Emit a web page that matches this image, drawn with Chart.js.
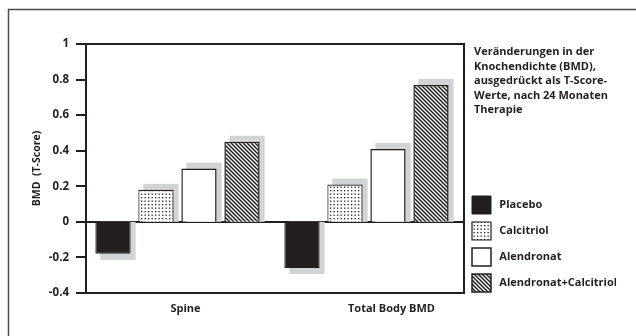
<!DOCTYPE html>
<html>
<head>
<meta charset="utf-8">
<script src="https://cdn.jsdelivr.net/npm/chart.js@4/dist/chart.umd.min.js"></script>
<style>
  html, body { margin: 0; padding: 0; background: #fff; }
  #wrap { width: 636px; height: 336px; position: relative; }
</style>
</head>
<body>
<div id="wrap"><canvas id="c" width="636" height="336"></canvas></div>
<script>
// Groups on the x axis
const categories = ['Spine', 'Total Body BMD'];
// Treatment arms
const seriesNames = ['Placebo', 'Calcitriol', 'Alendronat', 'Alendronat+Calcitriol'];
// Change in T-score after 24 months, per group
const placebo = [-0.18, -0.26];
const calcitriol = [0.18, 0.21];
const alendronat = [0.30, 0.41];
const alendronatCalcitriol = [0.45, 0.77];
// Value axis
const yMin = -0.4;
const yMax = 1;
const yStep = 0.2;
const yTitle = 'BMD  (T-Score)';
// Side note
const noteLines = [
  'Veränderungen in der',
  'Knochendichte (BMD),',
  'ausgedrückt als T-Score-',
  'Werte, nach 24 Monaten',
  'Therapie'
];

const INK = '#231f20';
const FONT = '"Open Sans"';

function dotPattern() {
  const c = document.createElement('canvas');
  c.width = 7; c.height = 7;
  const g = c.getContext('2d');
  g.fillStyle = '#fff';
  g.fillRect(0, 0, 7, 7);
  g.fillStyle = INK;
  [1, 4.5].forEach(px => [1, 4.5].forEach(py => g.fillRect(px, py, 1.3, 1.3)));
  return g.createPattern(c, 'repeat');
}

function hatchPattern() {
  const s = 4;
  const c = document.createElement('canvas');
  c.width = s; c.height = s;
  const g = c.getContext('2d');
  g.fillStyle = '#fff';
  g.fillRect(0, 0, s, s);
  g.strokeStyle = INK;
  g.lineWidth = 1.5;
  g.beginPath();
  g.moveTo(-1, -1); g.lineTo(s + 1, s + 1);
  g.moveTo(-1, s - 1); g.lineTo(1, s + 1);
  g.moveTo(s - 1, -1); g.lineTo(s + 1, 1);
  g.stroke();
  return g.createPattern(c, 'repeat');
}

const seriesValues = [placebo, calcitriol, alendronat, alendronatCalcitriol];
const fills = [INK, dotPattern(), '#ffffff', hatchPattern()];
const borderWidths = [1, 1.2, 1.5, 1.5];

const datasets = seriesNames.map((name, k) => ({
  label: name,
  data: seriesValues[k].map((v, i) => ({ x: i, y: v })),
  backgroundColor: fills[k],
  borderColor: INK,
  borderWidth: borderWidths[k],
  borderSkipped: 'start',
  categoryPercentage: 0.91,
  barPercentage: 0.82
}));

const TEXT_SIZE = 11;
const LEGEND_BOX = 19;
const LEGEND_PAD = 8;
const PLOT_RIGHT = 464;

// Outer frame, plot frame, bar shadows, group labels and side note
const decorations = {
  id: 'decorations',
  beforeDraw(chart) {
    const ctx = chart.ctx;
    ctx.save();
    ctx.strokeStyle = '#4a4a4a';
    ctx.lineWidth = 1.5;
    ctx.strokeRect(8.5, 9.5, 700, 400);
    ctx.restore();
  },
  beforeDatasetsDraw(chart, args, opts) {
    const ctx = chart.ctx;
    ctx.save();
    ctx.fillStyle = opts.shadowColor;
    chart.data.datasets.forEach((ds, k) => {
      chart.getDatasetMeta(k).data.forEach(bar => {
        const { x, y, base, width } = bar.getProps(['x', 'y', 'base', 'width'], true);
        const left = x - width / 2 + opts.shadowDx;
        let top, bottom;
        if (y < base) { top = y - opts.shadowDy; bottom = base; }
        else { top = base; bottom = y + opts.shadowDy; }
        ctx.fillRect(left, top, width, bottom - top);
      });
    });
    ctx.restore();
  },
  afterDraw(chart, args, opts) {
    const ctx = chart.ctx;
    const a = chart.chartArea;
    ctx.save();
    ctx.strokeStyle = INK;
    ctx.lineWidth = 2;
    ctx.beginPath();
    ctx.moveTo(a.left, a.top);
    ctx.lineTo(a.right, a.top);
    ctx.lineTo(a.right, a.bottom);
    ctx.stroke();

    ctx.fillStyle = INK;
    ctx.font = 'bold ' + TEXT_SIZE + 'px ' + FONT;
    ctx.textAlign = 'center';
    ctx.textBaseline = 'middle';
    const xs = chart.scales.x;
    categories.forEach((c, i) => {
      ctx.fillText(c, xs.getPixelForValue(i) + opts.labelShift[i], opts.labelY);
    });

    ctx.textAlign = 'left';
    noteLines.forEach((line, i) => {
      ctx.fillText(line, opts.noteX, opts.noteY + i * opts.noteStep);
    });
    ctx.restore();
  }
};

Chart.defaults.font.family = FONT;
Chart.defaults.color = INK;

const chart = new Chart(document.getElementById('c'), {
  type: 'bar',
  data: { datasets },
  plugins: [decorations],
  options: {
    responsive: false,
    animation: false,
    events: [],
    layout: { padding: { top: 44, left: 8, right: 20, bottom: 36 } },
    scales: {
      x: {
        type: 'linear',
        offset: false,
        bounds: 'data',
        min: -0.484,
        max: 1.516,
        afterBuildTicks: s => { s.ticks = categories.map((c, i) => ({ value: i })); },
        afterFit: s => { s.height = 7; },
        grid: { display: false },
        ticks: { display: false },
        border: { display: true, color: INK, width: 2 }
      },
      y: {
        z: 1,
        min: yMin,
        max: yMax,
        afterFit: s => { s.width = 78; },
        ticks: {
          stepSize: yStep,
          padding: 7,
          font: { size: 11.5, weight: 'bold' },
          color: INK,
          callback: v => String(Number(v.toFixed(1)))
        },
        grid: {
          drawOnChartArea: true,
          color: c => (c.tick && Math.abs(c.tick.value) < 1e-9) ? INK : 'rgba(0,0,0,0)',
          lineWidth: 2,
          tickColor: INK,
          tickWidth: 2,
          tickLength: 10
        },
        border: { display: true, color: INK, width: 2 },
        title: {
          display: true,
          text: yTitle,
          font: { size: 10.5, weight: 'bold' },
          color: INK,
          padding: { top: 23, bottom: 0 }
        }
      }
    },
    plugins: {
      tooltip: { enabled: false },
      legend: {
        position: 'right',
        align: 'end',
        labels: {
          boxWidth: LEGEND_BOX,
          boxHeight: 18,
          padding: LEGEND_PAD,
          color: INK,
          font: { size: TEXT_SIZE, weight: 'bold' },
          generateLabels: c => Chart.defaults.plugins.legend.labels.generateLabels(c)
            .map(item => Object.assign(item, { text: ' ' + item.text }))
        }
      },
      decorations: {
        shadowColor: '#d2d3d5',
        shadowDx: 5,
        shadowDy: 6,
        labelShift: [8, 25],
        labelY: 309,
        noteX: 474,
        noteY: 52,
        noteStep: 14.5
      }
    }
  }
});

// Widen the right padding until the plot frame ends where the legend begins
chart.options.layout.padding.right += chart.chartArea.right - PLOT_RIGHT;
chart.update();
</script>
</body>
</html>
